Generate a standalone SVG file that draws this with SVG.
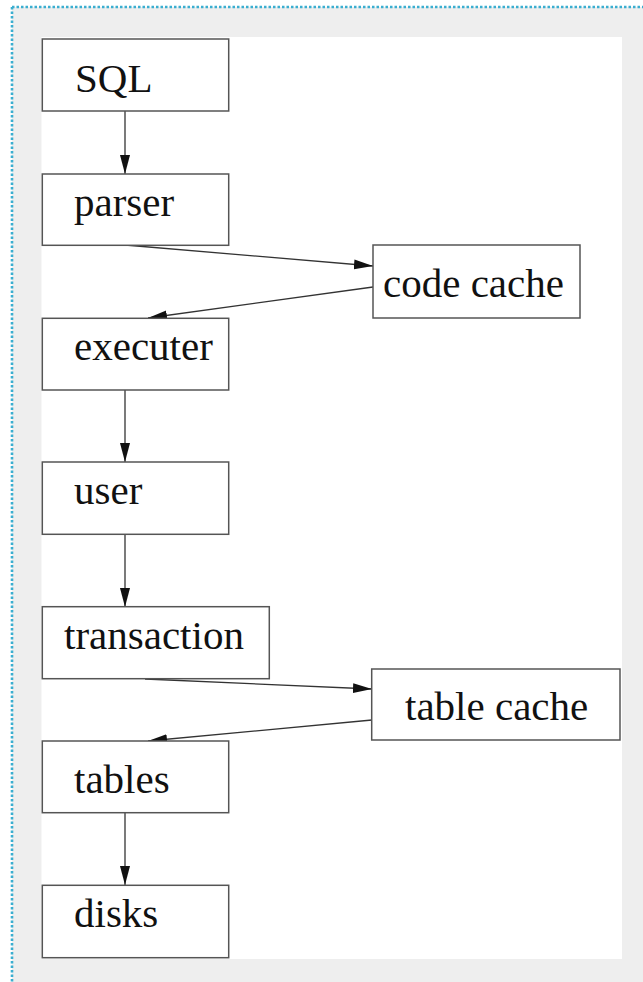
<svg xmlns="http://www.w3.org/2000/svg" width="643" height="982" viewBox="0 0 643 982">
  <style>
    .box { fill: #ffffff; stroke: #555555; stroke-width: 1.5; }
    .lbl { font-family: "Liberation Serif", "Times New Roman", serif; font-size: 41px; fill: #111111; }
    .edge { fill: none; stroke: #333333; stroke-width: 1.3; marker-end: url(#arrow); }
    .dots { fill: none; stroke: #3aaed0; stroke-width: 2.6; stroke-dasharray: 2.5 2; }
  </style>
  <defs>
    <marker id="arrow" markerUnits="userSpaceOnUse" markerWidth="20" markerHeight="11" refX="19" refY="5" orient="auto">
      <path d="M0,0 L19,5 L0,10 z" fill="#111111"/>
    </marker>
  </defs>

  <rect x="0" y="0" width="643" height="982" fill="#ffffff"/>
  <rect x="12" y="7" width="631" height="975" fill="#eeeeee"/>
  <line class="dots" x1="12" y1="7" x2="643" y2="7"/>
  <line class="dots" x1="12" y1="7" x2="12" y2="982"/>
  <rect x="41.5" y="37" width="580.5" height="922" fill="#ffffff"/>

  <g id="connectors">
    <line class="edge" x1="125" y1="111" x2="125" y2="174"/>
    <line class="edge" x1="125" y1="245" x2="373" y2="266"/>
    <line class="edge" x1="373" y1="287" x2="148" y2="318"/>
    <line class="edge" x1="125" y1="390" x2="125" y2="462"/>
    <line class="edge" x1="125" y1="534" x2="125" y2="607"/>
    <line class="edge" x1="145" y1="679" x2="372" y2="689"/>
    <line class="edge" x1="372" y1="720" x2="148" y2="741"/>
    <line class="edge" x1="125" y1="813" x2="125" y2="885"/>
  </g>

  <g id="sql">
    <rect class="box" x="42.3" y="39" width="186.4" height="72"/>
    <text class="lbl" x="75" y="92">SQL</text>
  </g>
  <g id="parser">
    <rect class="box" x="42.3" y="174" width="186.4" height="71.3"/>
    <text class="lbl" x="74" y="216">parser</text>
  </g>
  <g id="code-cache">
    <rect class="box" x="373" y="245" width="207" height="73"/>
    <text class="lbl" x="383" y="297">code cache</text>
  </g>
  <g id="executer">
    <rect class="box" x="42.3" y="318.3" width="186.4" height="71.7"/>
    <text class="lbl" x="74" y="360">executer</text>
  </g>
  <g id="user">
    <rect class="box" x="42.3" y="462" width="186.4" height="72.3"/>
    <text class="lbl" x="74" y="504">user</text>
  </g>
  <g id="transaction">
    <rect class="box" x="42.3" y="606.7" width="227" height="72"/>
    <text class="lbl" x="64" y="649">transaction</text>
  </g>
  <g id="table-cache">
    <rect class="box" x="371.7" y="669" width="248.3" height="71"/>
    <text class="lbl" x="405" y="720">table cache</text>
  </g>
  <g id="tables">
    <rect class="box" x="42.3" y="741" width="186.4" height="71.7"/>
    <text class="lbl" x="74" y="793">tables</text>
  </g>
  <g id="disks">
    <rect class="box" x="42.3" y="885.3" width="186.4" height="72.4"/>
    <text class="lbl" x="74" y="927">disks</text>
  </g>
</svg>
